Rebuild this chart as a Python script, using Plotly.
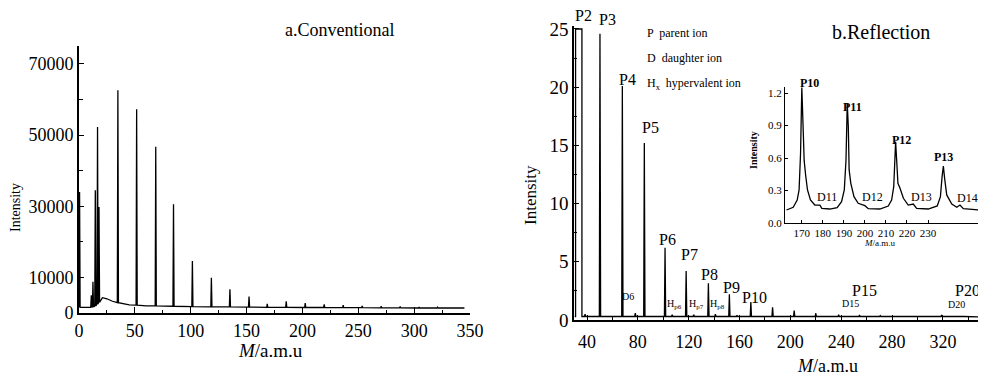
import plotly.graph_objects as go

FONT = "Liberation Serif, Times New Roman, serif"

# ---------------- data: a. Conventional ----------------
left_peak_mass = [0.5, 11.0, 12.5, 14.6, 16.6, 17.9, 34.8, 51.6, 68.7, 84.6, 101.5, 118.5, 135.1,
                  152.2, 168.5, 185.5, 202.5, 219.5, 236.5, 253.5, 270.5, 287.5, 304.5, 321.0, 337.5]
left_peak_height = [34000, 5000, 8800, 34500, 52300, 29800, 62600, 57300, 46700, 30600, 14600, 9900, 6650,
                    4600, 2600, 3300, 2800, 2400, 2200, 2000, 1900, 1800, 1700, 1650, 1550]
left_peak_foot = [1600, 1600, 1700, 2000, 2500, 3000, 2900, 2200, 2000, 1900, 1800, 1700, 1700,
                  1650, 1600, 1600, 1550, 1550, 1500, 1500, 1450, 1450, 1400, 1400, 1400]
left_bg_mass = [0, 8, 21, 25, 30, 45, 60, 345]
left_bg_level = [1600, 1600, 4300, 4000, 3300, 2300, 2000, 1400]

# ---------------- data: b. Reflection ----------------
right_sat_edges = [31.0, 36.0]     # saturated P2 peak, flat top
right_sat_level = 25.0
right_peak_mass = [38.5, 50.2, 67.8, 78.0, 85.1, 101.4, 107.0, 118.0, 124.0, 135.5, 141.0, 152.0, 158.0,
                   168.9, 186.0, 203.0, 220.0, 238.0, 254.4, 270.7, 278.0, 288.0, 305.0, 319.0, 337.0]
right_peak_height = [0.5, 24.6, 20.1, 0.6, 15.2, 6.2, 0.45, 4.2, 0.45, 3.15, 0.5, 2.2, 0.4,
                     1.55, 1.1, 0.8, 0.58, 0.45, 0.42, 0.38, 0.35, 0.3, 0.3, 0.42, 0.3]
right_peak_foot = [0.3] * len(right_peak_mass)
right_bg_mass = [30.2, 351.0]
right_bg_level = [0.3, 0.25]

# ---------------- data: inset ----------------
inset_mass = [162.7, 165.9, 167.8, 168.7, 169.4, 170.0, 170.6, 171.1, 171.8, 172.7, 174.1, 176.2, 178.6,
              179.5, 183.3, 186.8, 188.9, 190.2, 191.0, 191.6, 192.1, 192.5, 193.3, 194.8, 196.8, 200.0,
              201.6, 207.1, 211.1, 212.7, 213.7, 214.1, 214.6, 215.1, 215.7, 216.7, 218.3, 220.6, 223.0,
              224.6, 230.1, 234.4, 235.9, 236.7, 237.3, 237.9, 238.9, 241.3, 243.7, 245.2, 246.8, 254.8]
inset_intensity = [0.12, 0.145, 0.212, 0.305, 0.643, 1.25, 0.89, 0.58, 0.443, 0.305, 0.212, 0.166, 0.165,
                   0.135, 0.129, 0.141, 0.197, 0.305, 0.58, 1.105, 0.89, 0.49, 0.366, 0.243, 0.182, 0.16,
                   0.132, 0.129, 0.157, 0.212, 0.335, 0.58, 0.75, 0.58, 0.366, 0.32, 0.228, 0.166, 0.175,
                   0.135, 0.129, 0.157, 0.243, 0.428, 0.526, 0.412, 0.259, 0.175, 0.145, 0.166, 0.132, 0.12]

# labels
right_labels = ["P2", "P3", "P4", "P5", "P6", "P7", "P8", "P9", "P10", "P15", "P20"]
right_label_x = [37.6, 56.5, 71.5, 89.6, 103.0, 121.0, 136.0, 154.0, 172.0, 258.7, 339.0]
right_label_y = [26.2, 25.8, 20.7, 16.5, 6.9, 5.6, 3.87, 2.75, 1.9, 2.5, 2.5]
small_labels = ["D6", "H<sub>p6</sub>", "H<sub>p7</sub>", "H<sub>p8</sub>", "D15", "D20"]
small_label_x = [72.3, 109.0, 126.5, 143.0, 247.0, 331.0]
small_label_y = [2.0, 1.37, 1.37, 1.37, 1.45, 1.35]
legend_lines = ["P  parent ion", "D  daughter ion", "H<sub>x</sub>  hypervalent ion"]
legend_y = [24.66, 22.5, 20.3]
legend_x = 85.6
inset_labels = ["P10", "P11", "P12", "P13", "D11", "D12", "D13", "D14"]
inset_label_x = [173.8, 194.3, 217.5, 237.6, 181.9, 203.8, 227.0, 249.0]
inset_label_y = [1.29, 1.07, 0.77, 0.61, 0.24, 0.24, 0.24, 0.23]


def stick_line(pm, ph, pf, bm, bl, hw, extra=None):
    pts = []
    for m, l in zip(bm, bl):
        pts.append((m, l))
    if extra:
        pts.extend(extra)
    for m, h, f in zip(pm, ph, pf):
        pts.append((m - hw, f))
        pts.append((m, h))
        pts.append((m + hw, f))
    pts = sorted(pts, key=lambda p: p[0])
    return [p[0] for p in pts], [p[1] for p in pts]


lx, ly = stick_line(left_peak_mass, left_peak_height, left_peak_foot, left_bg_mass, left_bg_level, 0.5)
sat = [(right_sat_edges[0], right_peak_foot[0]), (right_sat_edges[0], right_sat_level),
       (right_sat_edges[1], right_sat_level), (right_sat_edges[1], right_peak_foot[0])]
rx, ry = stick_line(right_peak_mass, right_peak_height, right_peak_foot, right_bg_mass, right_bg_level, 0.5, sat)

fig = go.Figure()
fig.add_trace(go.Scatter(x=lx, y=ly, mode="lines", line=dict(color="black", width=1.3),
                         xaxis="x", yaxis="y", showlegend=False, hoverinfo="skip"))
fig.add_trace(go.Scatter(x=rx, y=ry, mode="lines", line=dict(color="black", width=1.3),
                         xaxis="x2", yaxis="y2", showlegend=False, hoverinfo="skip"))
fig.add_trace(go.Scatter(x=inset_mass, y=inset_intensity, mode="lines", line=dict(color="black", width=1.3),
                         xaxis="x3", yaxis="y3", showlegend=False, hoverinfo="skip"))

W, H = 986, 377
OX, OY = 8, 8   # page offset of the plot div
def px(x):
    return (x - OX) / W
def py(y):
    return 1 - (y - OY) / H

# axis geometry (style)
geo = {
    "1": dict(xd=[px(79), px(470)], xr=[0, 350], yd=[py(313), py(46.2)], yr=[0, 75000]),
    "2": dict(xd=[px(574.3), px(982.3)], xr=[30, 351], yd=[py(320), py(25.5)], yr=[0, 25.3]),
    "3": dict(xd=[px(785), px(981)], xr=[162, 255.2], yd=[py(223), py(86.5)], yr=[0, 1.26]),
}

def to_paper(ax, x, y):
    g = geo[ax]
    fx = g["xd"][0] + (x - g["xr"][0]) / (g["xr"][1] - g["xr"][0]) * (g["xd"][1] - g["xd"][0])
    fy = g["yd"][0] + (y - g["yr"][0]) / (g["yr"][1] - g["yr"][0]) * (g["yd"][1] - g["yd"][0])
    return fx, fy

axis_common = dict(showgrid=False, zeroline=False, showline=True, linecolor="black",
                   ticks="inside", tickcolor="black", mirror=False, automargin=False)

fig.update_layout(
    width=W, height=H, margin=dict(l=0, r=0, t=0, b=0, pad=0, autoexpand=False),
    autosize=False,
    paper_bgcolor="white", plot_bgcolor="white",
    font=dict(family=FONT, color="black"),
    xaxis=dict(**axis_common, domain=geo["1"]["xd"], range=geo["1"]["xr"], anchor="y",
               tickvals=[0, 50, 100, 150, 200, 250, 300, 350], ticklen=6, linewidth=2,
               tickfont=dict(size=18, family=FONT),
               minor=dict(dtick=25, ticks="inside", ticklen=3, tickcolor="black")),
    yaxis=dict(**axis_common, domain=geo["1"]["yd"], range=geo["1"]["yr"], anchor="x",
               tickvals=[0, 10000, 30000, 50000, 70000], tickformat="d", ticklen=5, linewidth=2,
               tickfont=dict(size=18, family=FONT),
               minor=dict(dtick=10000, ticks="inside", ticklen=4, tickcolor="black")),
    xaxis2=dict(**axis_common, domain=geo["2"]["xd"], range=geo["2"]["xr"], anchor="y2",
                tickvals=[40, 80, 120, 160, 200, 240, 280, 320], ticklen=5, linewidth=2,
                tickfont=dict(size=18, family=FONT), ticklabelstandoff=4,
                minor=dict(dtick=20, tick0=0, ticks="inside", ticklen=3, tickcolor="black")),
    yaxis2=dict(**axis_common, domain=geo["2"]["yd"], range=geo["2"]["yr"], anchor="x2",
                tickvals=[0, 5, 10, 15, 20, 25], ticklen=5, linewidth=2,
                tickfont=dict(size=19, family=FONT),
                minor=dict(dtick=2.5, ticks="inside", ticklen=3, tickcolor="black")),
    xaxis3=dict(**axis_common, domain=geo["3"]["xd"], range=geo["3"]["xr"], anchor="y3",
                tickvals=[170, 180, 190, 200, 210, 220, 230], ticklen=3, linewidth=1.2,
                tickfont=dict(size=11, family=FONT)),
    yaxis3=dict(**axis_common, domain=geo["3"]["yd"], range=geo["3"]["yr"], anchor="x3",
                tickvals=[0, 0.3, 0.6, 0.9, 1.2], tickformat=".1f", ticklen=3, linewidth=1.2,
                tickfont=dict(size=11, family=FONT)),
)

ann = []
def add_text(text, x, y, size, angle=0, xanchor="center", bold=False):
    ann.append(dict(text=("<b>" + text + "</b>") if bold else text, x=x, y=y, xref="paper", yref="paper",
                    xanchor=xanchor, yanchor="middle", textangle=angle, showarrow=False,
                    font=dict(size=size, family=FONT, color="black")))

# panel titles
add_text("a.Conventional", px(339), py(30), 18)
add_text("b.Reflection", px(881), py(32), 20)
# axis titles
add_text("Intensity", px(15), py(208), 14, angle=-90)
add_text("Intensity", px(530), py(195), 17, angle=-90)
add_text("Intensity", px(754), py(150), 10, angle=-90, bold=True)
add_text("<i>M</i>/a.m.u", px(270), py(350), 19)
add_text("<i>M</i>/a.m.u", px(827), py(366), 18)
add_text("<i>M</i>/a.m.u", px(879), py(243), 9)
# peak labels
for t, x, y in zip(right_labels, right_label_x, right_label_y):
    fx, fy = to_paper("2", x, y)
    add_text(t, fx, fy, 16)
for t, x, y in zip(small_labels, small_label_x, small_label_y):
    fx, fy = to_paper("2", x, y)
    add_text(t, fx, fy, 10)
for t, y in zip(legend_lines, legend_y):
    fx, fy = to_paper("2", legend_x, y)
    add_text(t, fx, fy, 12, xanchor="left")
for t, x, y in zip(inset_labels, inset_label_x, inset_label_y):
    fx, fy = to_paper("3", x, y)
    add_text(t, fx, fy, 12, bold=t.startswith("P"))

fig.update_layout(annotations=ann)
fig.write_html("out.html")
